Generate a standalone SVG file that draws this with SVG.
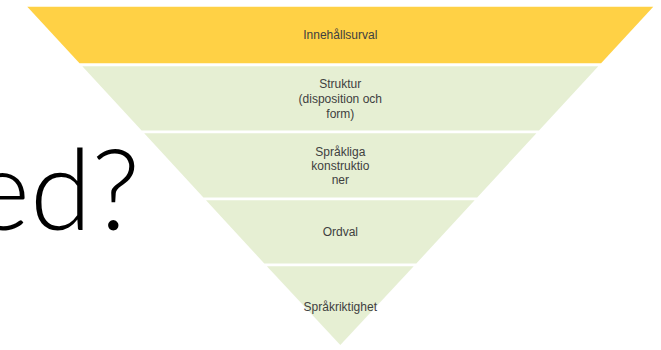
<svg xmlns="http://www.w3.org/2000/svg" width="661" height="350" viewBox="0 0 661 350">
<style>
.lbl{font-family:"Liberation Sans",Arial,sans-serif;font-size:12px;fill:#404040;text-anchor:middle}
.big{font-family:Lato,"Open Sans",sans-serif;font-weight:300;font-size:112px;fill:#000000;text-anchor:end}
.y{fill:#FFD145}
.g{fill:#E6EFD3}
</style>
<rect width="661" height="350" fill="#FFFFFF"/>
<text class="big" x="140" y="230">ed?</text>
<g id="band1">
<polygon class="y" points="27.3,6.7 653.3,6.7 601.1,63.3 79.5,63.3"/>
<text class="lbl" x="340.3" y="39">Innehållsurval</text>
</g>
<g id="band2">
<polygon class="g" points="82.3,66.3 598.3,66.3 539,130.5 141.6,130.5"/>
<text class="lbl" x="340.3" y="87.5">Struktur</text>
<text class="lbl" x="340.3" y="102.5">(disposition och</text>
<text class="lbl" x="340.3" y="117.5">form)</text>
</g>
<g id="band3">
<polygon class="g" points="144.2,133.3 536.4,133.3 477.2,197.5 203.4,197.5"/>
<text class="lbl" x="340.3" y="155.5">Språkliga</text>
<text class="lbl" x="340.3" y="169.5">konstruktio</text>
<text class="lbl" x="340.3" y="184">ner</text>
</g>
<g id="band4">
<polygon class="g" points="206,200.3 474.6,200.3 416.3,263.5 264.3,263.5"/>
<text class="lbl" x="340.3" y="236">Ordval</text>
</g>
<g id="band5">
<polygon class="g" points="266.9,266.3 413.7,266.3 340.3,345"/>
<text class="lbl" x="340.3" y="311">Språkriktighet</text>
</g>
<g id="connectors"/>
</svg>
